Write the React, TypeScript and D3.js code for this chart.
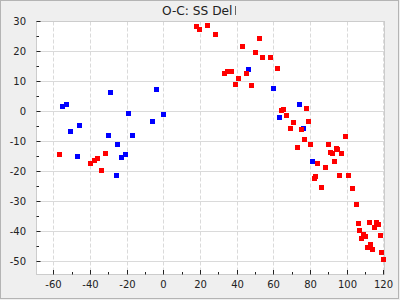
import React from "react";
import * as d3 from "d3";

const title = "O-C: SS Del";
const xTicks = [-60, -40, -20, 0, 20, 40, 60, 80, 100, 120];
const yTicks = [-50, -40, -30, -20, -10, 0, 10, 20, 30];
const xMinor = [-50, -30, -10, 10, 30, 50, 70, 90, 110];
const yMinor = [-45, -35, -25, -15, -5, 5, 15, 25];

const blueX = [-55.1, -52.9, -50.7, -45.8, -46.9, -28.9, -30.0, -25.1, -25.6, -22.9, -20.7, -19.1, -16.9, -3.8, -6.0, 0.0, 46.3, 60.0, 74.2, 63.3, 76.4, 81.3];
const blueY = [1.6, 2.2, -6.8, -4.8, -15.1, 6.2, -8.1, -11.1, -21.4, -15.4, -14.4, -0.8, -8.1, 7.2, -3.4, -1.1, 13.9, 7.6, 2.2, -2.1, -5.8, -16.8];

const redX = [-56.7, -39.8, -37.7, -36.0, -31.7, -33.8, 18.0, 19.6, 24.0, 28.3, 52.4, 43.1, 50.2, 54.0, 58.3, 62.2, 33.3, 34.9, 37.1, 45.3, 40.9, 39.3, 48.0, 78.0, 64.3, 65.1, 67.1, 70.9, 79.1, 69.3, 75.3, 99.3, 76.9, 80.2, 73.1, 90.0, 94.4, 94.9, 91.1, 92.2, 97.1, 84.0, 93.3, 88.3, 95.9, 100.9, 82.9, 82.3, 86.2, 103.1, 105.3, 106.3, 112.3, 116.2, 117.3, 115.1, 106.9, 109.1, 110.2, 108.0, 118.3, 112.9, 111.3, 114.0, 118.9, 119.6];
const redY = [-14.4, -17.4, -16.4, -15.8, -14.1, -19.8, 28.2, 27.2, 28.6, 25.6, 24.2, 21.6, 19.6, 17.9, 17.9, 14.2, 12.6, 13.2, 13.2, 12.6, 10.9, 8.9, 8.6, 0.9, 0.2, 0.6, -1.4, -3.8, -3.4, -5.8, -6.1, -8.4, -9.4, -11.1, -12.1, -11.1, -12.4, -12.8, -13.8, -14.1, -14.1, -17.4, -16.8, -18.8, -21.4, -21.4, -21.8, -22.4, -25.4, -25.8, -31.0, -37.4, -37.1, -37.1, -37.8, -38.8, -39.8, -41.1, -41.8, -42.4, -41.4, -44.4, -45.4, -46.1, -47.1, -49.4];

const W = 400;
const H = 300;
const left = 36.5;
const right = 384.5;
const top = 21.5;
const bottom = 274.5;
const font = "'DejaVu Sans', Verdana, sans-serif";

export default function App() {
  const x = d3.scaleLinear().domain([-60, 120]).range([53.33, 383.33]);
  const y = d3.scaleLinear().domain([-50, 30]).range([261, 21]);
  const lx = (v: number) => Math.round(x(v)) + 0.5;
  const ly = (v: number) => Math.round(y(v)) + 0.5;
  const S = 5;

  const blue = blueX.map((v, i) => [v, blueY[i]]);
  const red = redX.map((v, i) => [v, redY[i]]);

  return (
    <svg width={W} height={H} style={{ position: "absolute", left: 0, top: 0 }} fontFamily={font}>
      <rect x={0} y={0} width={W} height={H} fill="#efefef" />
      <rect x={0.5} y={0.5} width={398} height={298} fill="none" stroke="#b4b4b4" strokeWidth={1} />
      <text x={162} y={15} textAnchor="start" fontSize={12.2} fill="#222">{title}</text>
      <line x1={235.5} x2={235.5} y1={6} y2={15} stroke="#444" strokeWidth={0.8} />
      <rect x={left} y={top} width={right - left} height={bottom - top} fill="#ffffff" />
      {yTicks.map((t) => (
        <line key={"gy" + t} x1={left} x2={right} y1={ly(t)} y2={ly(t)} stroke="#dadada" strokeWidth={1} />
      ))}
      {xTicks.map((t) => (
        <line key={"gx" + t} x1={lx(t)} x2={lx(t)} y1={top} y2={bottom} stroke="#dadada" strokeWidth={1} strokeDasharray="4,2" />
      ))}
      <rect x={left} y={top} width={right - left} height={bottom - top} fill="none" stroke="#cccccc" strokeWidth={1} />
      {blue.map(([a, b], i) => (
        <rect key={"b" + i} x={Math.round(x(a)) - 2} y={Math.round(y(b)) - 2} width={S} height={S} fill="#0000ff" />
      ))}
      {red.map(([a, b], i) => (
        <rect key={"r" + i} x={Math.round(x(a)) - 2} y={Math.round(y(b)) - 2} width={S} height={S} fill="#ff0000" />
      ))}
      {yTicks.map((t) => (
        <g key={"ty" + t}>
          <line x1={left} x2={left + 4} y1={ly(t)} y2={ly(t)} stroke="#222" strokeWidth={1} />
          <text x={26} y={ly(t) + 3.6} textAnchor="end" fontSize={10} fill="#222">{t}</text>
        </g>
      ))}
      {yMinor.map((t) => (
        <line key={"my" + t} x1={left} x2={left + 2.5} y1={ly(t)} y2={ly(t)} stroke="#222" strokeWidth={1} />
      ))}
      {xTicks.map((t) => (
        <g key={"tx" + t}>
          <line x1={lx(t)} x2={lx(t)} y1={bottom} y2={bottom - 4.5} stroke="#222" strokeWidth={1} />
          <text x={lx(t)} y={287.5} textAnchor="middle" fontSize={10} fill="#222">{t}</text>
        </g>
      ))}
      {xMinor.map((t) => (
        <line key={"mx" + t} x1={lx(t)} x2={lx(t)} y1={bottom} y2={bottom - 2.5} stroke="#222" strokeWidth={1} />
      ))}
    </svg>
  );
}
